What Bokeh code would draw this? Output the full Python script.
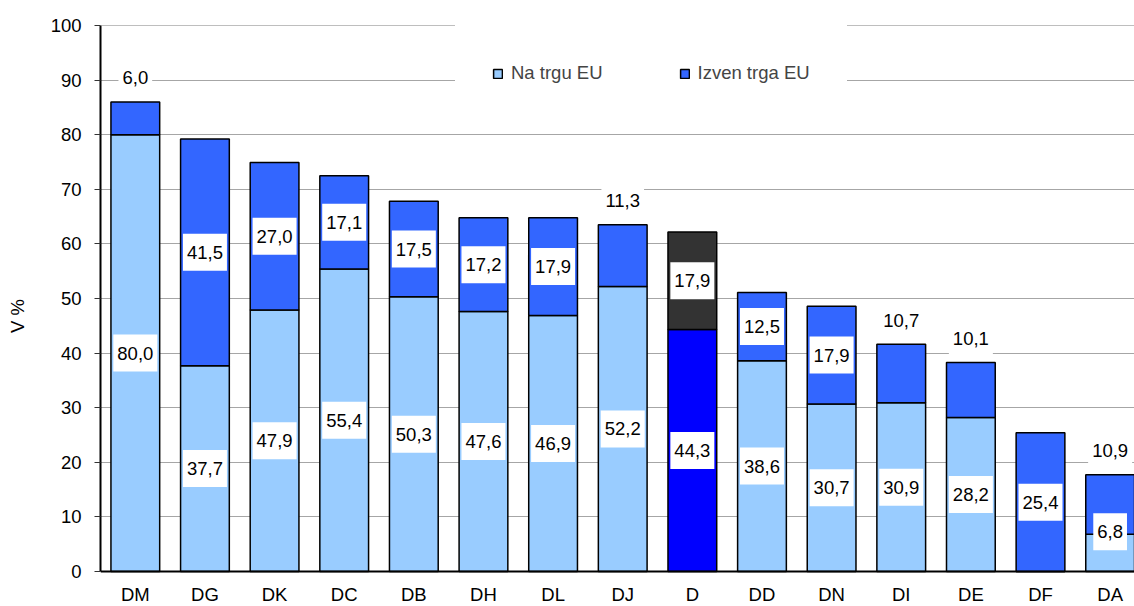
from bokeh.plotting import figure
from bokeh.models import Range1d, FixedTicker, Legend, LegendItem, Span, ColumnDataSource
from bokeh.core.properties import value
from bokeh.embed import file_html
from bokeh.resources import INLINE

# ---- data ----
categories = ["DM", "DG", "DK", "DC", "DB", "DH", "DL", "DJ", "D", "DD", "DN", "DI", "DE", "DF", "DA"]
na_trgu_eu = [80.0, 37.7, 47.9, 55.4, 50.3, 47.6, 46.9, 52.2, 44.3, 38.6, 30.7, 30.9, 28.2, 0.0, 6.8]
izven_trga_eu = [6.0, 41.5, 27.0, 17.1, 17.5, 17.2, 17.9, 11.3, 17.9, 12.5, 17.9, 10.7, 10.1, 25.4, 10.9]
series_names = ["Na trgu EU", "Izven trga EU"]
y_ticks = list(range(0, 101, 10))
y_label = "V %"
highlight = "D"

# ---- styling ----
FONT = value("Liberation Sans")
FS = "18.5px"
bottom_colors = ["#0000FF" if c == highlight else "#99CCFF" for c in categories]
top_colors = ["#333333" if c == highlight else "#3366FF" for c in categories]

xs = list(range(len(categories)))
totals = [a + b for a, b in zip(na_trgu_eu, izven_trga_eu)]

src = ColumnDataSource(dict(x=xs, na=na_trgu_eu, iz=izven_trga_eu, total=totals,
                            bc=bottom_colors, tc=top_colors))

# frame: left 100, top 25, value 0 at y=571, extends to bottom of canvas
p = figure(width=1134, height=606,
           x_range=Range1d(-0.5, 14.35), y_range=Range1d(-6.41, 100),
           output_backend="svg", toolbar_location=None,
           min_border_left=100, min_border_right=0, min_border_top=25, min_border_bottom=0)
p.outline_line_color = None
p.background_fill_color = "white"

# grid
p.xgrid.visible = False
p.ygrid.ticker = FixedTicker(ticks=y_ticks)
p.ygrid.grid_line_color = "#A6A6A6"
p.ygrid.grid_line_width = 1

# bars
r_bot = p.vbar(x="x", bottom=0, top="na", width=0.7, fill_color="bc",
               line_color="black", line_width=1.5, source=src)
r_top = p.vbar(x="x", bottom="na", top="total", width=0.7, fill_color="tc",
               line_color="black", line_width=1.5, source=src)

# data labels
def fmt(v):
    return f"{v:.1f}".replace(".", ",")

lx, ly, lt = [], [], []
for i, (b, t) in enumerate(zip(na_trgu_eu, izven_trga_eu)):
    if b > 0:
        lx.append(i); ly.append(max(b / 2, 7.3)); lt.append(fmt(b))
    if t > 0:
        lx.append(i)
        ly.append(b + t + 4.4 if t < 12 else b + t / 2)
        lt.append(fmt(t))

p.text(x=lx, y=ly, text=lt, text_font=FONT, text_font_size=FS, text_color="black",
       text_align="center", text_baseline="middle",
       background_fill_color="white", padding=(4, 4, 12, 12))

# axes
ya = p.yaxis[0]
ya.ticker = FixedTicker(ticks=y_ticks)
ya.bounds = (0, 100)
ya.axis_line_color = "black"
ya.axis_line_width = 2
ya.major_tick_out = 6
ya.major_tick_in = 0
ya.major_tick_line_color = "#333333"
ya.minor_tick_line_color = None
ya.major_label_standoff = 13
ya.major_label_text_font = "Liberation Sans"
ya.major_label_text_font_size = FS
ya.major_label_text_color = "black"
ya.axis_label = y_label
ya.axis_label_standoff = 20
ya.axis_label_text_font = "Liberation Sans"
ya.axis_label_text_font_size = FS
ya.axis_label_text_font_style = "normal"
ya.axis_label_text_color = "black"

xa = p.xaxis[0]
xa.fixed_location = 0
xa.ticker = FixedTicker(ticks=xs)
xa.major_label_overrides = {i: c for i, c in enumerate(categories)}
xa.axis_line_color = "black"
xa.axis_line_width = 2
xa.major_tick_out = 0
xa.major_tick_in = 0
xa.minor_tick_line_color = None
xa.major_label_standoff = 12
xa.major_label_text_font = "Liberation Sans"
xa.major_label_text_font_size = FS
xa.major_label_text_color = "black"

# legend: white padded box interrupts the 90 gridline
legend = Legend(items=[LegendItem(label=series_names[0], renderers=[r_bot], index=0),
                       LegendItem(label=series_names[1], renderers=[r_top], index=0)],
                orientation="horizontal", location=(355, 485),
                padding=36, spacing=76, glyph_width=11, glyph_height=11, label_standoff=8,
                label_text_font="Liberation Sans", label_text_font_size=FS,
                border_line_color="white", border_line_width=1,
                background_fill_color="white", background_fill_alpha=1.0)
p.add_layout(legend)
p.add_layout(Span(location=100, dimension="width", line_color="#7F7F7F", line_width=1))

open("out.html", "w").write(file_html(p, INLINE))
